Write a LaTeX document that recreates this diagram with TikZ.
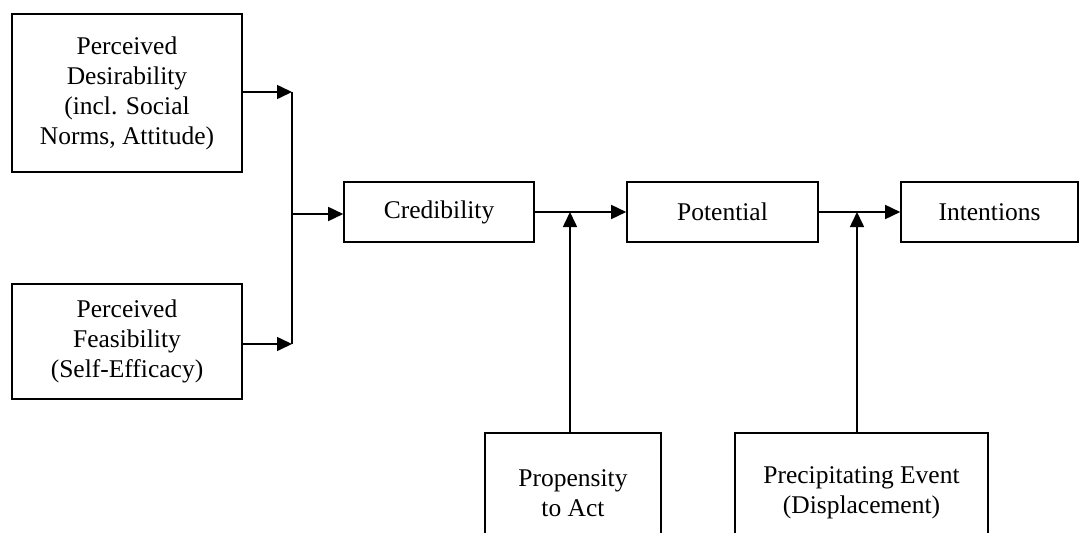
\documentclass[tikz,border=0pt]{standalone}
\usepackage{fontspec}
\setmainfont{Liberation Serif}
\usetikzlibrary{arrows.meta}
\begin{document}
\begin{tikzpicture}[x=1pt,y=-1pt,
  box/.style={draw,line width=1.6pt,inner sep=0pt,align=center,
    font=\fontsize{25.5}{30}\selectfont},
  arr/.style={line width=1.6pt,-{Triangle[length=15pt,width=14pt]}},
  ln/.style={line width=1.6pt}]
\useasboundingbox (0,0) rectangle (1080,533);
\clip (0,0) rectangle (1080,533);
% antecedent boxes
\node[box,minimum width=230,minimum height=158] (pd) at (127,93)
  {Perceived\\Desirability\\(incl. Social\\Norms, Attitude)};
\node[box,minimum width=230,minimum height=115] (pf) at (127,341.5)
  {Perceived\\Feasibility\\(Self-Efficacy)};
% main chain
\node[box,minimum width=190,minimum height=60] (cred) at (439,212) {Credibility};
\node[box,minimum width=191,minimum height=60] (pot) at (722.5,212) {Potential};
\node[box,minimum width=177,minimum height=60] (int) at (989.5,212) {Intentions};
% moderators (boxes run past the lower edge)
\node[box,minimum width=176,minimum height=120] (prop) at (573,493) {Propensity\\to Act};
\node[box,minimum width=253,minimum height=120] (prec) at (861.5,493) {Precipitating Event\\(Displacement)};
% junction points
\coordinate (j1) at (292,92);
\coordinate (j2) at (292,344);
\coordinate (jm) at (292,214);
\coordinate (jp) at (570,212);
\coordinate (jq) at (857,212);
% connectors
\draw[arr] (pd.east |- j1) -- (j1);
\draw[arr] (pf.east |- j2) -- (j2);
\draw[ln] (j1) -- (j2);
\draw[arr] (jm) -- (cred.west |- jm);
\draw[arr] (cred.east) -- (pot.west);
\draw[arr] (jp |- prop.north) -- (jp);
\draw[arr] (pot.east) -- (int.west);
\draw[arr] (jq |- prec.north) -- (jq);
\end{tikzpicture}
\end{document}
